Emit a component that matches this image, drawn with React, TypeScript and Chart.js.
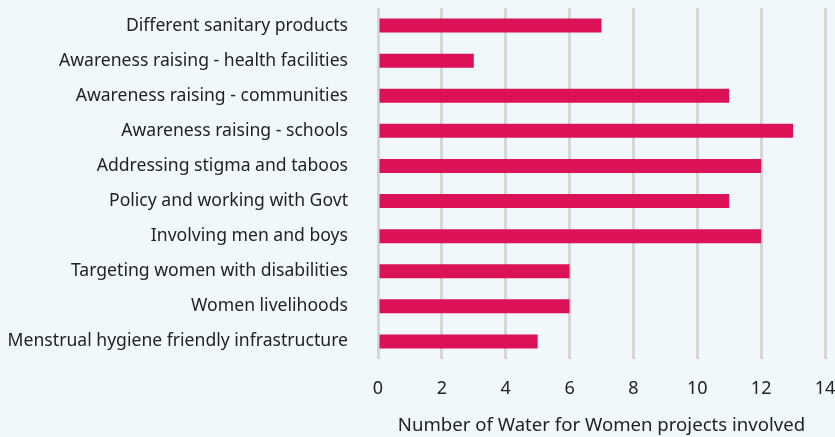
import React, { useEffect, useRef } from "react";
import { Chart, registerables } from "chart.js";

Chart.register(...registerables);

const categories = [
  "Different sanitary products",
  "Awareness raising - health facilities",
  "Awareness raising - communities",
  "Awareness raising - schools",
  "Addressing stigma and taboos",
  "Policy and working with Govt",
  "Involving men and boys",
  "Targeting women with disabilities",
  "Women livelihoods",
  "Menstrual hygiene friendly infrastructure",
];
const projectCounts = [7, 3, 11, 13, 12, 11, 12, 6, 6, 5];
const xMin = 0;
const xMax = 14;
const xStep = 2;
const axisTitle = "Number of Water for Women projects involved";

export default function App() {
  const ref = useRef<HTMLCanvasElement | null>(null);
  useEffect(() => {
    document.body.style.margin = "0";
    const ctx = ref.current!;
    const family = "'Noto Sans', sans-serif";
    const chart = new Chart(ctx, {
      type: "bar",
      data: {
        labels: categories,
        datasets: [
          {
            data: projectCounts,
            backgroundColor: "#dc1259",
            barPercentage: 0.4,
            categoryPercentage: 1,
          },
        ],
      },
      options: {
        indexAxis: "y",
        responsive: false,
        animation: false,
        layout: { padding: { left: 8, top: 8, right: 10, bottom: 0 } },
        plugins: { legend: { display: false }, tooltip: { enabled: false } },
        scales: {
          x: {
            min: xMin,
            max: xMax,
            ticks: { stepSize: xStep, font: { family, size: 18 }, color: "#222", padding: 19 },
            grid: { color: "#d6d6d6", lineWidth: 3, drawTicks: false },
            border: { display: false },
            title: {
              display: true,
              text: axisTitle,
              font: { family, size: 18.6 },
              color: "#222",
              padding: { top: 1, bottom: 0 },
            },
            afterFit: (s: any) => {
              s.height = 78;
              s.paddingLeft = 0;
              s.paddingRight = 0;
            },
          },
          y: {
            ticks: { font: { family, size: 17.6 }, color: "#222", padding: 30 },
            grid: { display: false, drawTicks: false },
            border: { display: false },
            afterFit: (s: any) => {
              s.width = 370;
              s.paddingTop = 0;
              s.paddingBottom = 0;
            },
          },
        },
      },
    });
    return () => chart.destroy();
  }, []);
  return (
    <div style={{ position: "fixed", left: 0, top: 0, width: 835, height: 437, background: "#f0f8fb" }}>
      <canvas ref={ref} width={835} height={437} style={{ display: "block" }} />
    </div>
  );
}
